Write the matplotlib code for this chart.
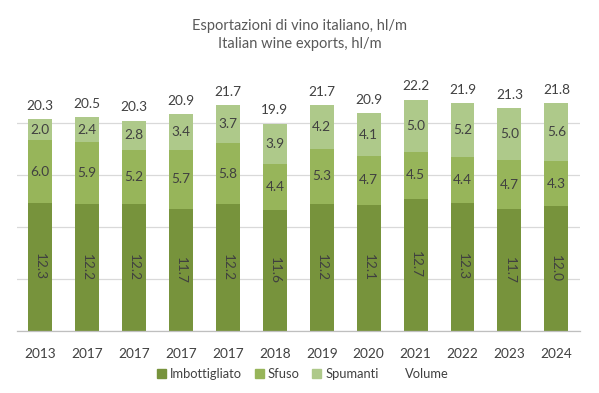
import matplotlib
matplotlib.use("Agg")
import matplotlib.pyplot as plt
from matplotlib.lines import Line2D
from matplotlib.patches import Patch
import numpy as np

plt.rcParams['font.family'] = ['Lato', 'DejaVu Sans']

years = ["2013", "2017", "2017", "2017", "2017", "2018", "2019", "2020", "2021", "2022", "2023", "2024"]
imbottigliato = [12.3, 12.2, 12.2, 11.7, 12.2, 11.6, 12.2, 12.1, 12.7, 12.3, 11.7, 12.0]
sfuso = [6.0, 5.9, 5.2, 5.7, 5.8, 4.4, 5.3, 4.7, 4.5, 4.4, 4.7, 4.3]
spumanti = [2.0, 2.4, 2.8, 3.4, 3.7, 3.9, 4.2, 4.1, 5.0, 5.2, 5.0, 5.6]
volume = [20.3, 20.5, 20.3, 20.9, 21.7, 19.9, 21.7, 20.9, 22.2, 21.9, 21.3, 21.8]

c_imb = "#77933C"
c_sfu = "#97B55A"
c_spu = "#AEC98A"
txt = "#404040"

fig = plt.figure(figsize=(5.99, 3.93), dpi=100)
ax = fig.add_axes([0.028, 0.158, 0.94, 0.636])

x = np.arange(len(years))
w = 0.51
imb = np.array(imbottigliato)
sfu = np.array(sfuso)
spu = np.array(spumanti)

ax.bar(x, imb, w, color=c_imb, zorder=2)
ax.bar(x, sfu, w, bottom=imb, color=c_sfu, zorder=2)
ax.bar(x, spu, w, bottom=imb + sfu, color=c_spu, zorder=2)

fs = 9.8
for i in range(len(x)):
    ax.text(x[i], imb[i] / 2, f"{imb[i]:.1f}", rotation=-90, ha='center', va='center',
            fontsize=fs, color=txt, zorder=3)
    ax.text(x[i], imb[i] + sfu[i] / 2, f"{sfu[i]:.1f}", ha='center', va='center',
            fontsize=fs, color=txt, zorder=3)
    ax.text(x[i], imb[i] + sfu[i] + spu[i] / 2, f"{spu[i]:.1f}", ha='center', va='center',
            fontsize=fs, color=txt, zorder=3)
    ax.text(x[i], imb[i] + sfu[i] + spu[i] + 0.7, f"{volume[i]:.1f}", ha='center', va='bottom',
            fontsize=fs, color=txt, zorder=3)

ax.set_xlim(-0.5, len(x) - 0.5)
ax.set_ylim(0, 24)
ax.set_yticks([0, 5, 10, 15, 20])
ax.yaxis.grid(True, color="#D9D9D9", linewidth=0.9, zorder=0)
ax.set_axisbelow(True)
ax.tick_params(axis='y', left=False, labelleft=False)
ax.tick_params(axis='x', bottom=False, labelsize=fs, labelcolor=txt, pad=9)
ax.set_xticks(x)
ax.set_xticklabels(years)
for s in ['top', 'right', 'left']:
    ax.spines[s].set_visible(False)
ax.spines['bottom'].set_color("#BFBFBF")
ax.spines['bottom'].set_linewidth(0.9)

fig.text(0.5, 0.935, "Esportazioni di vino italiano, hl/m", ha='center', va='center',
         fontsize=10.5, color="#595959")
fig.text(0.5, 0.888, "Italian wine exports, hl/m", ha='center', va='center',
         fontsize=10.5, color="#595959")

handles = [Patch(color=c_imb), Patch(color=c_sfu), Patch(color=c_spu),
           Line2D([], [], linestyle='none')]
labels = ["Imbottigliato", "Sfuso", "Spumanti", "Volume"]
leg = fig.legend(handles, labels, loc='center', bbox_to_anchor=(0.505, 0.048), ncol=4,
                 frameon=False, fontsize=9.3, handlelength=0.7, handleheight=0.7,
                 handletextpad=0.3, columnspacing=1.0)
for t in leg.get_texts():
    t.set_color(txt)

fig.savefig("out.png", dpi=100)
